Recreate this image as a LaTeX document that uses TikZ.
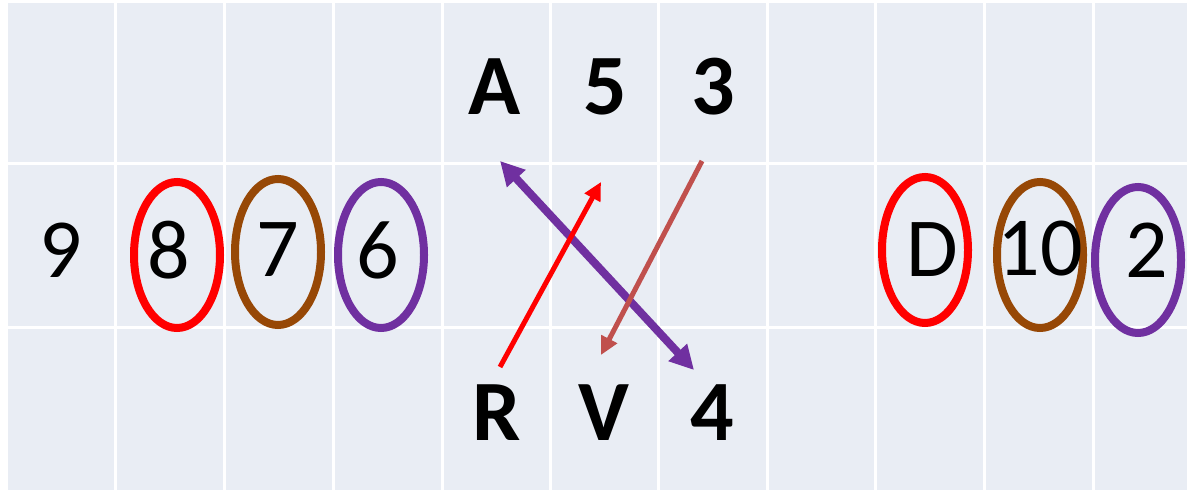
\documentclass[tikz,border=0pt]{standalone}
\usepackage{fontspec}
\setmainfont{Carlito}
\usepackage{tikz}
\usetikzlibrary{arrows.meta, shapes.geometric}

\definecolor{bgblue}{HTML}{E9EDF4}
\definecolor{ringred}{HTML}{FF0000}
\definecolor{ringbrown}{HTML}{974806}
\definecolor{ringpurple}{HTML}{7030A0}
\definecolor{arrowrose}{HTML}{C0504D}

\begin{document}
\begin{tikzpicture}[x=0.5pt, y=-0.5pt,
    every node/.style={inner sep=0pt, font=\fontsize{42}{42}\selectfont},
    boldlbl/.style={font=\fontsize{43}{43}\selectfont\bfseries},
    ring/.style={draw=#1, line width=4pt, ellipse, minimum width=43pt, minimum height=73pt}]
  \useasboundingbox (0,0) rectangle (1187,490);
  % table background and white grid
  \fill[bgblue] (8,3) rectangle (1187,490);
  \foreach \x in {115,224,333,442,550,658,767,875,984,1093}
    \draw[white, line width=1.5pt] (\x,3) -- (\x,490);
  \foreach \y in {164,328}
    \draw[white, line width=1.5pt] (8,\y) -- (1187,\y);
  % circled entries
  \foreach \nm/\cx/\cy/\col in {e8/177/255/ringred, e7/278/252/ringbrown, e6/381/255/ringpurple,
      eD/925/250/ringred, e10/1040/255/ringbrown, e2/1138/260/ringpurple}
    \node[ring=\col] (\nm) at (\cx,\cy) {};
  % middle row
  \node (n9) at (61,250) {9};
  \node (n8) at (169,250) {8};
  \node (n7) at (278,250) {7};
  \node (n6) at (378,250) {6};
  \node (nD) at (932,250) {D};
  \node (n10) at (1040,249) {10};
  \node (n2) at (1147,250) {2};
  % top and bottom rows
  \node[boldlbl] (A) at (495,87) {A};
  \node[boldlbl] (n5) at (605,87) {5};
  \node[boldlbl] (n3) at (713,87) {3};
  \node[boldlbl] (R) at (497,413) {R};
  \node[boldlbl] (V) at (604,413) {V};
  \node[boldlbl] (n4) at (712,413) {4};
  % arrow ends
  \coordinate (pA) at (500,161);
  \coordinate (p4) at (694,370);
  \coordinate (pR) at (500,367);
  \coordinate (p5) at (601,182);
  \coordinate (p3) at (702,161);
  \coordinate (pV) at (601,355);
  \draw[ringpurple, line width=4pt, {Triangle[length=12pt, width=12pt]}-{Triangle[length=12pt, width=12pt]}] (pA) -- (p4);
  \draw[ringred, line width=2.5pt, -{Triangle[length=9pt, width=8.5pt]}] (pR) -- (p5);
  \draw[arrowrose, line width=2.5pt, -{Triangle[length=9pt, width=8.5pt]}] (p3) -- (pV);
\end{tikzpicture}
\end{document}
